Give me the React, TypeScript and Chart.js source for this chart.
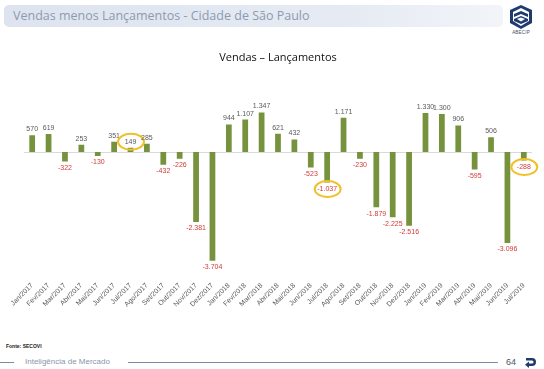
import React, { useEffect, useRef } from "react";
import { Chart, registerables } from "chart.js";

Chart.register(...registerables);

const months = [
  "Jan/2017", "Fev/2017", "Mar/2017", "Abr/2017", "Mai/2017", "Jun/2017", "Jul/2017", "Ago/2017",
  "Set/2017", "Out/2017", "Nov/2017", "Dez/2017",
  "Jan/2018", "Fev/2018", "Mar/2018", "Abr/2018", "Mai/2018", "Jun/2018", "Jul/2018", "Ago/2018",
  "Set/2018", "Out/2018", "Nov/2018", "Dez/2018",
  "Jan/2019", "Fev/2019", "Mar/2019", "Abr/2019", "Mai/2019", "Jun/2019", "Jul/2019",
];

const vendasMenosLancamentos = [
  570, 619, -322, 253, -130, 351, 149, 285, -432, -226, -2381, -3704,
  944, 1107, 1347, 621, 432, -523, -1037, 1171, -230, -1879, -2225, -2516,
  1330, 1300, 906, -595, 506, -3096, -288,
];

const highlightedIndexes = [6, 18, 30];

const yMin = -4000;
const yMax = 2000;

const fmt = (v: number) => {
  const s = Math.abs(v).toString().replace(/\B(?=(\d{3})+(?!\d))/g, ".");
  return v < 0 ? "-" + s : s;
};

const labelPlugin = {
  id: "valueLabels",
  beforeDatasetsDraw(chart: any) {
    const { ctx, chartArea, scales } = chart;
    const y0 = Math.round(scales.y.getPixelForValue(0)) + 0.5;
    ctx.save();
    ctx.strokeStyle = "#d9d9d9";
    ctx.lineWidth = 1;
    ctx.beginPath();
    ctx.moveTo(chartArea.left, y0);
    ctx.lineTo(chartArea.right, y0);
    ctx.stroke();
    ctx.restore();
  },
  afterDatasetsDraw(chart: any) {
    const { ctx } = chart;
    const meta = chart.getDatasetMeta(0);
    ctx.save();
    ctx.font = "7px 'Liberation Sans', sans-serif";
    ctx.textAlign = "center";
    meta.data.forEach((bar: any, i: number) => {
      const v = vendasMenosLancamentos[i];
      const text = fmt(v);
      let cy: number;
      if (v >= 0) {
        cy = bar.y - 6;
        ctx.fillStyle = "#595959";
      } else {
        cy = bar.y + 6.5;
        ctx.fillStyle = "#d23b36";
      }
      ctx.textBaseline = "middle";
      ctx.fillText(text, bar.x, cy);
      if (highlightedIndexes.includes(i)) {
        ctx.save();
        ctx.strokeStyle = "#f0c028";
        ctx.lineWidth = 2;
        ctx.beginPath();
        ctx.ellipse(bar.x + 0.5, cy, 13, 8, 0, 0, Math.PI * 2);
        ctx.stroke();
        ctx.restore();
      }
    });
    ctx.restore();
  },
};

function Logo() {
  return (
    <div style={{ position: "absolute", left: 506, top: 4, width: 30, height: 34 }}>
      <svg width="30" height="26" viewBox="0 0 30 26">
        <polygon points="15,1 26,6 26,19 15,25 4,19 4,6" fill="#1f3b6e" />
        <polygon points="15,4 23,8 23,17 15,22 7,17 7,8" fill="#ffffff" />
        <path d="M8 10 L15 7 L22 10 L22 13 L15 10 L8 13 Z" fill="#1f3b6e" />
        <path d="M8 15 L15 12 L22 15 L22 17 L15 20 L8 17 Z" fill="#1f3b6e" />
        <path d="M11 15 L15 13.5 L19 15 L15 17.5 Z" fill="#ffffff" />
      </svg>
      <div
        style={{
          position: "absolute",
          top: 26,
          left: 0,
          width: 30,
          textAlign: "center",
          fontFamily: "'Liberation Sans', sans-serif",
          fontSize: 4.5,
          color: "#3a4a66",
          letterSpacing: 0.2,
        }}
      >
        ABECIP
      </div>
    </div>
  );
}

export default function App() {
  const canvasRef = useRef<HTMLCanvasElement | null>(null);

  useEffect(() => {
    if (!canvasRef.current) return;
    const chart = new Chart(canvasRef.current, {
      type: "bar",
      data: {
        labels: months,
        datasets: [
          {
            data: vendasMenosLancamentos,
            backgroundColor: "#76923c",
            borderWidth: 0,
            barPercentage: 0.7,
            categoryPercentage: 0.5,
          },
        ],
      },
      options: {
        responsive: false,
        animation: false,
        devicePixelRatio: 1,
        layout: { padding: { left: 24, right: 12, top: 0, bottom: 0 } },
        plugins: {
          legend: { display: false },
          tooltip: { enabled: false },
          title: {
            display: true,
            text: "Vendas – Lançamentos",
            color: "#111111",
            font: { family: "'Open Sans', sans-serif", size: 11, weight: "normal" },
            padding: { top: 7, bottom: 29.2 },
          },
        },
        scales: {
          x: {
            grid: { display: false },
            border: { display: false },
            ticks: {
              autoSkip: false,
              maxRotation: 45,
              minRotation: 45,
              color: "#595959",
              font: { family: "'Liberation Sans', sans-serif", size: 7 },
              padding: 4,
            },
            afterFit: (scale: any) => {
              scale.height = 40.6;
            },
          },
          y: {
            display: false,
            min: yMin,
            max: yMax,
          },
        },
      },
      plugins: [labelPlugin],
    });
    return () => chart.destroy();
  }, []);

  return (
    <div
      style={{
        position: "absolute",
        left: 0,
        top: 0,
        width: 544,
        height: 369,
        background: "#ffffff",
        overflow: "hidden",
        fontFamily: "'Open Sans', sans-serif",
      }}
    >
      <div
        style={{
          position: "absolute",
          left: 4,
          top: 5,
          width: 499,
          height: 22,
          borderRadius: 5,
          background: "linear-gradient(90deg, #dde4ef 0%, #e6ebf3 70%, #f2f4f8 100%)",
        }}
      />
      <div
        style={{
          position: "absolute",
          left: 13,
          top: 6,
          fontSize: 12.5,
          lineHeight: "20px",
          color: "#8e9ab0",
          whiteSpace: "nowrap",
          fontFamily: "'Open Sans', sans-serif",
        }}
      >
        Vendas menos Lançamentos - Cidade de São Paulo
      </div>
      <Logo />
      <canvas
        ref={canvasRef}
        width={544}
        height={266}
        style={{ position: "absolute", left: 0, top: 44, width: 544, height: 266 }}
      />
      <div
        style={{
          position: "absolute",
          left: 6,
          top: 343,
          fontSize: 5,
          fontWeight: "bold",
          color: "#222222",
          fontFamily: "'Liberation Sans', sans-serif",
          whiteSpace: "nowrap",
        }}
      >
        Fonte: SECOVI
      </div>
      <div style={{ position: "absolute", left: 0, top: 362, width: 14, height: 1, background: "#7d8ba0" }} />
      <div
        style={{
          position: "absolute",
          left: 25,
          top: 356,
          fontSize: 8,
          lineHeight: "12px",
          color: "#8a96aa",
          fontFamily: "'Liberation Sans', sans-serif",
          whiteSpace: "nowrap",
        }}
      >
        Inteligência de Mercado
      </div>
      <div style={{ position: "absolute", left: 128, top: 362, width: 370, height: 1, background: "#7d8ba0" }} />
      <div
        style={{
          position: "absolute",
          left: 506,
          top: 356,
          fontSize: 9,
          lineHeight: "12px",
          color: "#4a5568",
          fontFamily: "'Liberation Sans', sans-serif",
        }}
      >
        64
      </div>
      <svg
        width="12"
        height="12"
        viewBox="0 0 12 12"
        style={{ position: "absolute", left: 525, top: 356 }}
      >
        <path d="M1 2 H7 A4 4 0 0 1 7 10 H3 V7.5 H7 A1.5 1.5 0 0 0 7 4.5 H1 Z" fill="#1f3b6e" />
        <path d="M0 8.75 L4 5.5 L4 12 Z" fill="#1f3b6e" />
      </svg>
    </div>
  );
}
